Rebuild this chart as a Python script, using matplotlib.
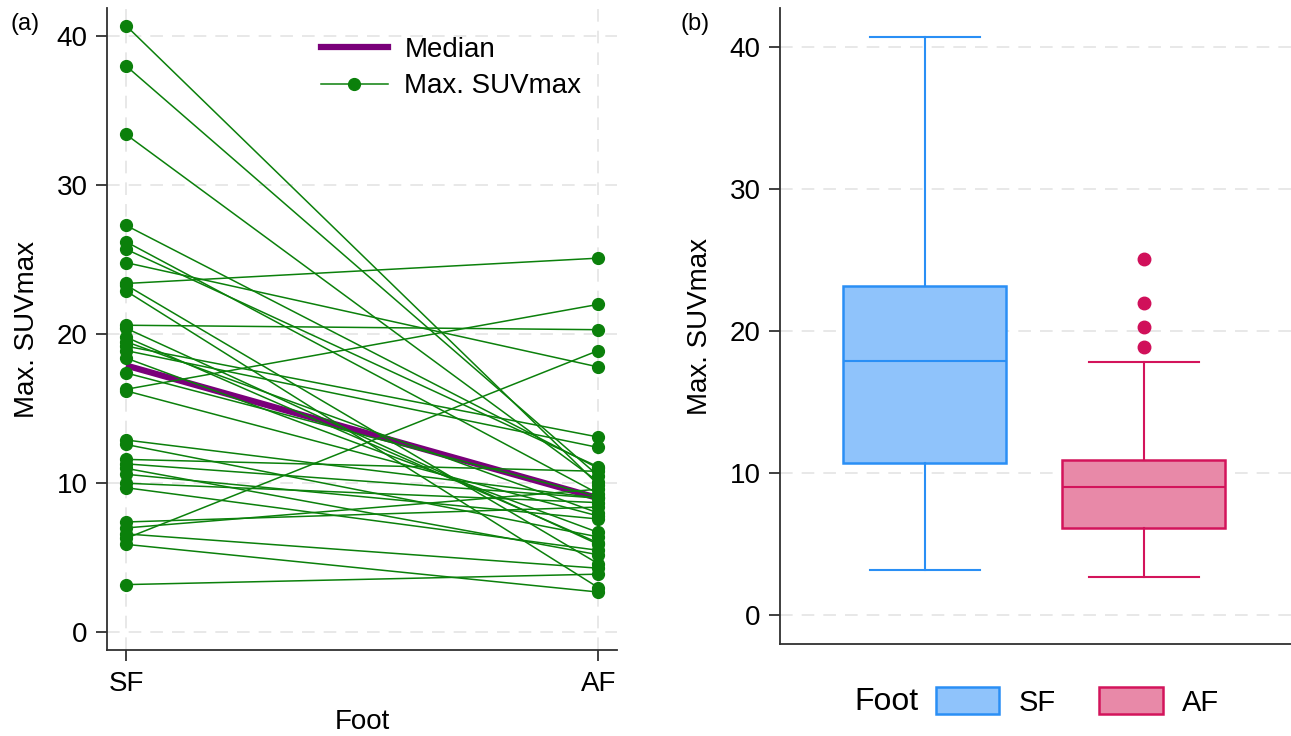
import numpy as np
import matplotlib.pyplot as plt
from matplotlib.lines import Line2D
from matplotlib.patches import Patch

plt.rcParams['font.family'] = ['Liberation Sans', 'DejaVu Sans']

# paired Max. SUVmax values per patient (SF -> AF)
sf = [40.7, 38.0, 33.4, 27.3, 26.2, 25.7, 24.8, 23.4, 23.3, 22.9,
      20.6, 20.4, 19.8, 19.5, 19.2, 18.9, 18.4, 17.4, 16.3, 16.2,
      12.9, 12.6, 11.6, 11.3, 11.0, 10.6, 10.0, 9.7, 7.4, 7.0,
      6.6, 6.3, 5.9, 3.2]
af = [9.9, 10.5, 10.1, 11.0, 9.3, 11.1, 17.8, 25.1, 4.6, 3.0,
      20.3, 5.9, 6.0, 8.0, 13.1, 12.4, 6.7, 9.1, 22.0, 7.8,
      9.0, 6.4, 10.8, 9.0, 5.2, 7.6, 8.7, 5.5, 8.4, 9.6,
      4.3, 18.9, 2.7, 3.9]
groups = ['SF', 'AF']
yticks = [0, 10, 20, 30, 40]

green = '#0b800b'
purple = '#7a007a'
fills = ['#8fc3fb', '#e889a8']
edges = ['#2a8ff5', '#d3145b']
flier_col = '#d0105a'
grid_col = '#e6e6e6'
spine_col = '#303030'

fig = plt.figure(figsize=(12.91, 7.36), dpi=100)
ax1 = fig.add_axes([0.0829, 0.1168, 0.395, 0.8723])
ax2 = fig.add_axes([0.6042, 0.125, 0.3958, 0.8635])

# ---- (a) paired lines ----
x = [0, 1]
ax1.plot(x, [np.median(sf), np.median(af)], color=purple, lw=4.5, zorder=2.5,
         solid_capstyle='butt')
for s, a in zip(sf, af):
    ax1.plot(x, [s, a], color=green, lw=1.1, marker='o', ms=8.5,
             mfc=green, mec=green, zorder=3)

ax1.set_xlim(-0.0402, 1.0396)
ax1.set_ylim(-1.19, 41.88)
ax1.set_xticks(x)
ax1.set_xticklabels(groups)
ax1.set_yticks(yticks)
ax1.grid(True, color=grid_col, linestyle=(0, (7, 5)), lw=1.3, zorder=0)
ax1.set_axisbelow(True)
ax1.set_xlabel('Foot', fontsize=20, labelpad=9)
ax1.set_ylabel('Max. SUVmax', fontsize=20, labelpad=12)

handles = [Line2D([], [], color=purple, lw=4.5),
           Line2D([], [], color=green, lw=1.1, marker='o', ms=8.5)]
ax1.legend(handles, ['Median', 'Max. SUVmax'], loc='upper left',
           bbox_to_anchor=(321 / 1291, 1 - 37 / 736), bbox_transform=fig.transFigure,
           frameon=False, fontsize=20, handlelength=2.4, handletextpad=0.6,
           labelspacing=0.37, borderpad=0, borderaxespad=0)

# ---- (b) box plot ----
bp = ax2.boxplot([sf, af], positions=[1, 2], widths=0.744, capwidths=0.502,
                 patch_artist=True)
for i in range(2):
    bp['boxes'][i].set_facecolor(fills[i])
    bp['boxes'][i].set_edgecolor(edges[i])
    bp['boxes'][i].set_linewidth(1.8)
    bp['medians'][i].set_color(edges[i])
    bp['medians'][i].set_linewidth(1.5)
    for ln in bp['whiskers'][2 * i:2 * i + 2] + bp['caps'][2 * i:2 * i + 2]:
        ln.set_color(edges[i])
        ln.set_linewidth(1.5)
    bp['fliers'][i].set_marker('o')
    bp['fliers'][i].set_markerfacecolor(flier_col)
    bp['fliers'][i].set_markeredgecolor(flier_col)
    bp['fliers'][i].set_markersize(9)

ax2.set_xlim(0.34, 2.673)
ax2.set_ylim(-2.04, 42.71)
ax2.set_xticks([])
ax2.set_yticks(yticks)
ax2.yaxis.grid(True, color=grid_col, linestyle=(0, (7, 5)), lw=1.3)
ax2.set_axisbelow(True)
ax2.set_ylabel('Max. SUVmax', fontsize=20, labelpad=12)

for ax in (ax1, ax2):
    for side in ('top', 'right'):
        ax.spines[side].set_visible(False)
    for side in ('left', 'bottom'):
        ax.spines[side].set_color(spine_col)
        ax.spines[side].set_linewidth(1.3)
    ax.tick_params(labelsize=20, length=8, width=1.3, color=spine_col)
    ax.tick_params(axis='y', pad=6)
ax1.tick_params(axis='x', pad=7)

# legend for (b): title on the left, keys in one row
fig.text(854 / 1291, 1 - 702 / 736, 'Foot', fontsize=23, va='center', ha='left')
leg_handles = [Patch(facecolor=fills[i], edgecolor=edges[i], lw=1.8) for i in range(2)]
fig.legend(leg_handles, groups, ncol=2, loc='center left',
           bbox_to_anchor=(936 / 1291, 1 - 702 / 736), frameon=False, fontsize=21,
           handlelength=2.17, handleheight=1.0, handletextpad=0.66,
           columnspacing=1.5, borderpad=0, borderaxespad=0)

fig.text(10 / 1291, 1 - 24 / 736, '(a)', fontsize=17, va='center')
fig.text(680 / 1291, 1 - 24 / 736, '(b)', fontsize=17, va='center')

fig.savefig('out.png', dpi=100)
